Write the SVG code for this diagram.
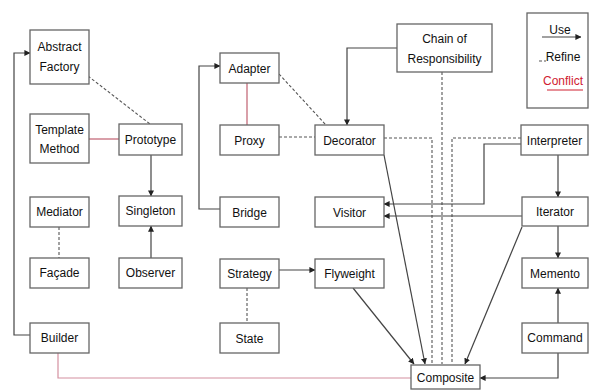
<svg xmlns="http://www.w3.org/2000/svg" width="589" height="391" viewBox="0 0 589 391">
<style>
.n rect{fill:#fff;stroke:#666;stroke-width:1.3}
.n text,.t{font-family:"Liberation Sans",Arial,sans-serif;font-size:12px;fill:#111;text-anchor:middle}
.u{fill:none;stroke:#444;stroke-width:1.2}
.r{fill:none;stroke:#555;stroke-width:1.1;stroke-dasharray:3,2}
.c{fill:none;stroke:#c06070;stroke-width:1.2}
</style>
<defs>
<marker id="a" viewBox="0 0 8 8" refX="7.5" refY="4" markerWidth="6" markerHeight="6" orient="auto" markerUnits="userSpaceOnUse">
<path d="M0,0L8,4L0,8z" fill="#222"/>
</marker>
</defs>
<rect width="589" height="391" fill="#fff"/>
<g id="connectors">
<path class="u" d="M30,335H14V53H30" marker-end="url(#a)"/>
<path class="r" d="M88,76L150,124"/>
<path class="c" d="M89,139H119"/>
<path class="u" d="M151,155V196" marker-end="url(#a)"/>
<path class="u" d="M151,258V226" marker-end="url(#a)"/>
<path class="r" d="M59,227V258"/>
<path class="c" d="M58,353V378H411" style="stroke:#d490a0"/>
<path class="u" d="M220,209H199V66H220" marker-end="url(#a)"/>
<path class="c" d="M247,83V125"/>
<path class="r" d="M279,74L326,125"/>
<path class="r" d="M279,137H315"/>
<path class="u" d="M397,48H347V125" marker-end="url(#a)"/>
<path class="u" d="M279,270H315" marker-end="url(#a)"/>
<path class="r" d="M247,288V323"/>
<path class="u" d="M353,288L414,364" marker-end="url(#a)"/>
<path class="u" d="M384,155L425,364" marker-end="url(#a)"/>
<path class="r" d="M384,138H432V364"/>
<path class="r" d="M442,72V364"/>
<path class="r" d="M521,138H452V364"/>
<path class="u" d="M521,144H484V204H384" marker-end="url(#a)"/>
<path class="u" d="M522,216H384" marker-end="url(#a)"/>
<path class="u" d="M522,227L465,364" marker-end="url(#a)"/>
<path class="u" d="M558,155V197" marker-end="url(#a)"/>
<path class="u" d="M558,226V258" marker-end="url(#a)"/>
<path class="u" d="M558,323V288" marker-end="url(#a)"/>
<path class="u" d="M558,353V378H480" marker-end="url(#a)"/>
</g>
<g id="legend">
<rect x="527" y="13" width="61" height="95" fill="#fff" stroke="#666" stroke-width="1.3"/>
<text class="t" x="560" y="34">Use</text>
<path class="u" d="M542,37H581" marker-end="url(#a)"/>
<text class="t" x="563" y="61">Refine</text>
<path class="r" d="M539,61H546" stroke-dasharray="1,2"/>
<text class="t" x="563" y="85" style="fill:#d02030">Conflict</text>
<path class="c" d="M547,90H583" style="stroke:#d02030"/>
</g>
<g id="abstract-factory" class="n"><rect x="30" y="30" width="59" height="54"/><text x="59.5" y="51">Abstract</text><text x="59.5" y="71">Factory</text></g>
<g id="template-method" class="n"><rect x="30" y="114" width="59" height="49"/><text x="59.5" y="134">Template</text><text x="59.5" y="153">Method</text></g>
<g id="prototype" class="n"><rect x="119" y="124" width="63" height="31"/><text x="150.5" y="144">Prototype</text></g>
<g id="mediator" class="n"><rect x="30" y="197" width="59" height="30"/><text x="59.5" y="216">Mediator</text></g>
<g id="singleton" class="n"><rect x="119" y="196" width="63" height="30"/><text x="150.5" y="215">Singleton</text></g>
<g id="facade" class="n"><rect x="30" y="258" width="59" height="30"/><text x="59.5" y="277">Façade</text></g>
<g id="observer" class="n"><rect x="119" y="258" width="63" height="30"/><text x="150.5" y="277">Observer</text></g>
<g id="builder" class="n"><rect x="30" y="323" width="59" height="30"/><text x="59.5" y="342">Builder</text></g>
<g id="adapter" class="n"><rect x="220" y="53" width="59" height="30"/><text x="249.5" y="73">Adapter</text></g>
<g id="proxy" class="n"><rect x="220" y="125" width="59" height="30"/><text x="249.5" y="145">Proxy</text></g>
<g id="decorator" class="n"><rect x="315" y="125" width="69" height="30"/><text x="349.5" y="145">Decorator</text></g>
<g id="chain" class="n"><rect x="397" y="24" width="95" height="48"/><text x="444.5" y="43">Chain of</text><text x="444.5" y="63">Responsibility</text></g>
<g id="bridge" class="n"><rect x="220" y="197" width="59" height="30"/><text x="249.5" y="217">Bridge</text></g>
<g id="visitor" class="n"><rect x="315" y="197" width="69" height="30"/><text x="349.5" y="217">Visitor</text></g>
<g id="strategy" class="n"><rect x="220" y="259" width="59" height="29"/><text x="249.5" y="278">Strategy</text></g>
<g id="flyweight" class="n"><rect x="315" y="259" width="69" height="29"/><text x="349.5" y="278">Flyweight</text></g>
<g id="state" class="n"><rect x="220" y="323" width="59" height="30"/><text x="249.5" y="343">State</text></g>
<g id="interpreter" class="n"><rect x="521" y="125" width="67" height="30"/><text x="554.5" y="145">Interpreter</text></g>
<g id="iterator" class="n"><rect x="522" y="197" width="66" height="29"/><text x="555" y="216">Iterator</text></g>
<g id="memento" class="n"><rect x="522" y="258" width="66" height="30"/><text x="555" y="278">Memento</text></g>
<g id="command" class="n"><rect x="522" y="323" width="66" height="30"/><text x="555" y="342">Command</text></g>
<g id="composite" class="n"><rect x="411" y="365" width="69" height="24"/><text x="445.5" y="382">Composite</text></g>
</svg>
